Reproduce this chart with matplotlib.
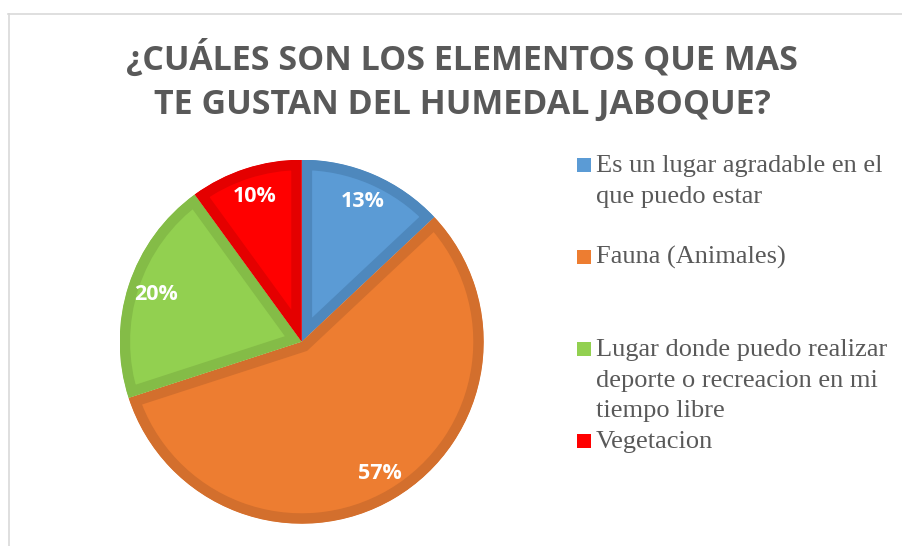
import matplotlib
matplotlib.use("Agg")
import matplotlib.pyplot as plt
from matplotlib.patches import Rectangle
from matplotlib.lines import Line2D

# data
labels = ["Es un lugar agradable en el\nque puedo estar",
          "Fauna (Animales)",
          "Lugar donde puedo realizar\ndeporte o recreacion en mi\ntiempo libre",
          "Vegetacion"]
values = [13, 57, 20, 10]
fills = ["#5B9BD5", "#ED7D31", "#92D050", "#FF0000"]
edges = ["#4E88BD", "#D36F2D", "#84BC47", "#E40000"]
title_lines = ["¿CUÁLES SON LOS ELEMENTOS QUE MAS", "TE GUSTAN DEL HUMEDAL JABOQUE?"]

W, H = 902, 546
fig = plt.figure(figsize=(W / 100, H / 100), dpi=100)

# light frame like the excel chart area
fig.add_artist(Line2D([8 / W, 1], [1 - 14 / H, 1 - 14 / H], color="#D9D9D9", lw=1.2))
fig.add_artist(Line2D([9 / W, 9 / W], [0, 1 - 14 / H], color="#D9D9D9", lw=1.2))

# title
for i, line in enumerate(title_lines):
    fig.text(462 / W, 1 - (70 + 44 * i) / H, line, ha="center", va="baseline",
             fontsize=24.5, fontweight="bold", color="#595959", family="Open Sans")

# pie
cx, cy, r = 301.7, 341.7, 182
ax = fig.add_axes([(cx - r) / W, (H - cy - r) / H, 2 * r / W, 2 * r / H])
wedges, texts, autotexts = ax.pie(values, colors=fills, startangle=90, counterclock=False,
                                  autopct="%1.0f%%", pctdistance=0.84,
                                  textprops=dict(color="white", fontweight="bold",
                                                 fontsize=15.5, family="Open Sans"))
# thick inner border on each slice, as in excel
for w, ec in zip(wedges, edges):
    w.set_edgecolor(ec)
    w.set_linewidth(15)
    w.set_joinstyle("miter")
    w.set_clip_on(True)
    w.set_clip_path(w)
ax.set_xlim(-1, 1)
ax.set_ylim(-1, 1)
ax.axis("off")

# legend drawn by hand
for i, (lab, col) in enumerate(zip(labels, fills)):
    base = 172 + 92 * i
    fig.add_artist(Rectangle((577 / W, 1 - base / H), 14 / W, 14 / H,
                             transform=fig.transFigure, facecolor=col, edgecolor="none"))
    for j, line in enumerate(lab.split("\n")):
        fig.text(596 / W, 1 - (base + 30.5 * j) / H, line, va="baseline",
                 fontsize=19, color="#595959", family="Liberation Serif")

fig.savefig("out.png", dpi=100)
